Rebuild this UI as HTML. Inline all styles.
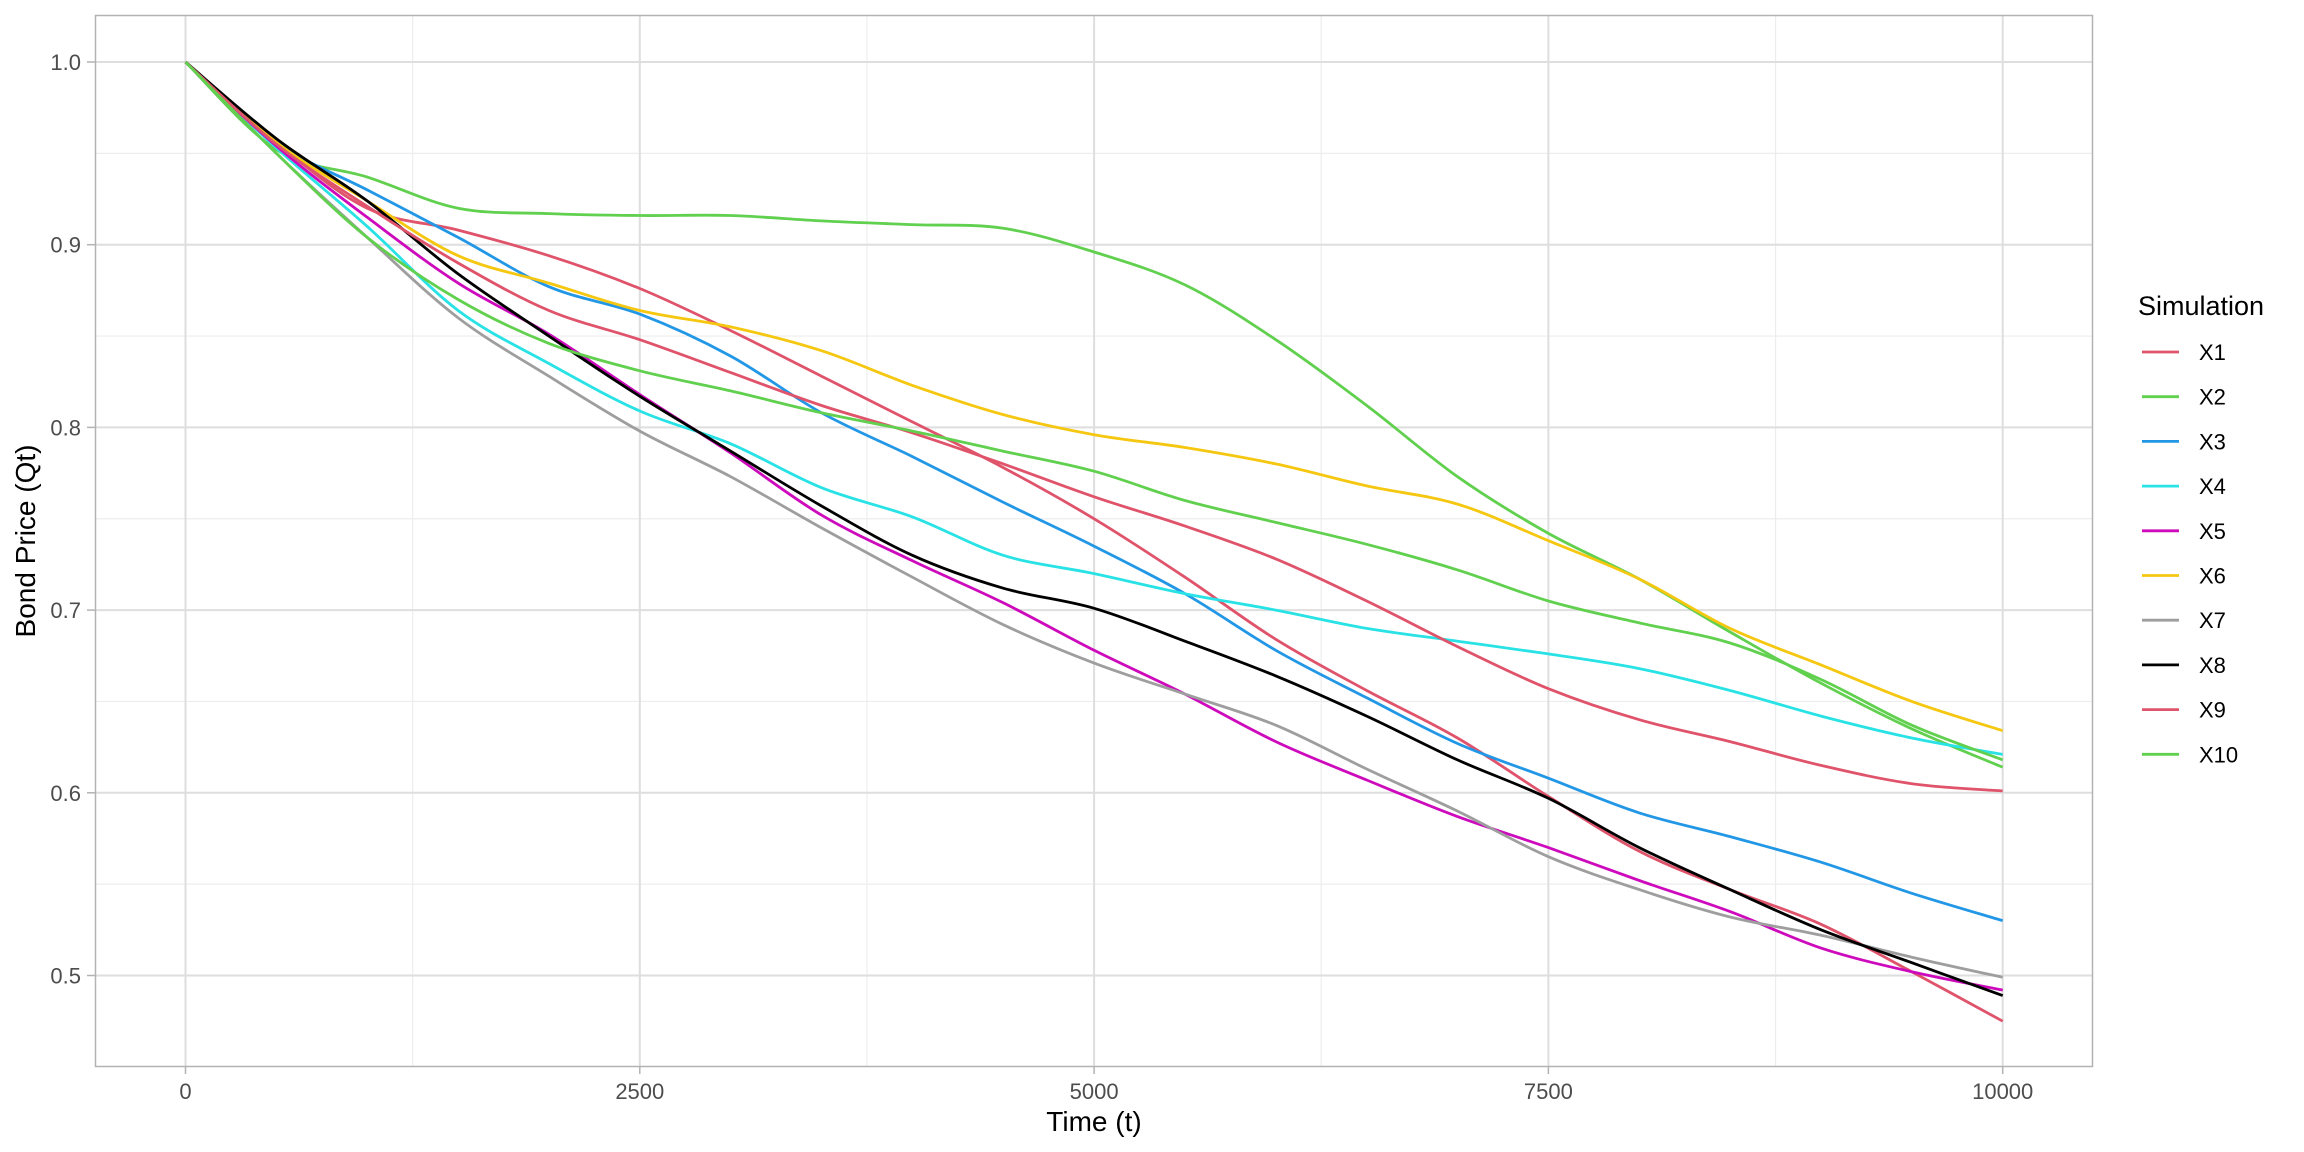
<!DOCTYPE html>
<html><head><meta charset="utf-8"><style>
html,body{margin:0;padding:0;background:#fff;}
svg{display:block;font-family:"Liberation Sans",Arial,sans-serif;}
</style></head><body>
<svg id="chart" width="2304" height="1152" viewBox="0 0 2304 1152" xmlns="http://www.w3.org/2000/svg">
<rect width="2304" height="1152" fill="#fff"/>
<g id="grid"></g>
<g id="series"></g>
<rect x="95.5" y="15.5" width="1997" height="1051" fill="none" stroke="#B3B3B3" stroke-width="1.5"/>
<g id="axes"></g>
<text x="1094" y="1131" font-size="28" text-anchor="middle" fill="#000">Time (t)</text>
<text transform="translate(35,541) rotate(-90)" font-size="28" text-anchor="middle" fill="#000">Bond Price (Qt)</text>
<g id="legend">
<text x="2138" y="315" font-size="27" fill="#000">Simulation</text>
</g>
</svg>
<script>
const times=[0,500,1000,1500,2000,2500,3000,3500,4000,4500,5000,5500,6000,6500,7000,7500,8000,8500,9000,9500,10000];
const seriesNames=["X1","X2","X3","X4","X5","X6","X7","X8","X9","X10"];
const X1=[1,0.956,0.92,0.908,0.894,0.876,0.853,0.828,0.803,0.778,0.75,0.718,0.684,0.656,0.63,0.598,0.568,0.547,0.528,0.502,0.475];
const X2=[1,0.952,0.937,0.92,0.917,0.916,0.916,0.913,0.911,0.909,0.896,0.878,0.848,0.812,0.773,0.742,0.717,0.688,0.66,0.635,0.614];
const X3=[1,0.956,0.93,0.904,0.877,0.862,0.839,0.808,0.784,0.759,0.735,0.709,0.678,0.652,0.627,0.608,0.589,0.576,0.562,0.545,0.53];
const X4=[1,0.953,0.91,0.864,0.835,0.809,0.791,0.767,0.751,0.73,0.72,0.709,0.70,0.69,0.683,0.676,0.668,0.656,0.642,0.63,0.621];
const X5=[1,0.954,0.915,0.879,0.851,0.818,0.786,0.752,0.727,0.704,0.678,0.654,0.628,0.607,0.587,0.57,0.552,0.535,0.515,0.502,0.492];
const X6=[1,0.956,0.924,0.894,0.879,0.864,0.855,0.842,0.823,0.807,0.796,0.789,0.78,0.768,0.758,0.738,0.717,0.69,0.67,0.65,0.634];
const X7=[1,0.95,0.904,0.86,0.828,0.798,0.773,0.745,0.718,0.692,0.671,0.654,0.637,0.613,0.59,0.565,0.547,0.532,0.522,0.51,0.499];
const X8=[1,0.958,0.924,0.884,0.85,0.817,0.787,0.757,0.73,0.712,0.701,0.683,0.664,0.642,0.618,0.597,0.57,0.547,0.525,0.507,0.489];
const X9=[1,0.955,0.921,0.89,0.864,0.848,0.83,0.812,0.797,0.78,0.762,0.746,0.728,0.705,0.68,0.657,0.64,0.628,0.615,0.605,0.601];
const X10=[1,0.95,0.904,0.87,0.846,0.831,0.82,0.808,0.798,0.787,0.776,0.76,0.748,0.736,0.722,0.705,0.693,0.682,0.662,0.637,0.618];
const seriesValues=[X1,X2,X3,X4,X5,X6,X7,X8,X9,X10];
const colors=["#DF536B","#61D04F","#2297E6","#28E2E5","#CD0BBC","#F5C710","#9E9E9E","#000000","#DF536B","#61D04F"];
const xTicks=[0,2500,5000,7500,10000];
const xTickLabels=["0","2500","5000","7500","10000"];
const xMinor=[1250,3750,6250,8750];
const yTicks=[0.5,0.6,0.7,0.8,0.9,1.0];
const yTickLabels=["0.5","0.6","0.7","0.8","0.9","1.0"];
const yMinor=[0.55,0.65,0.75,0.85,0.95];

const NS="http://www.w3.org/2000/svg";
function xs(t){return 185.5+(t/10000)*1817.2;}
function ys(v){return 62+(1-v)*1827;}
function mk(tag,parent,attrs){const e=document.createElementNS(NS,tag);for(const k in attrs)e.setAttribute(k,attrs[k]);parent.appendChild(e);return e;}
const grid=document.getElementById('grid'),axes=document.getElementById('axes'),ser=document.getElementById('series'),leg=document.getElementById('legend');
xMinor.forEach(t=>{const l=mk('line',grid,{x1:xs(t),x2:xs(t),y1:15,y2:1066,stroke:'#EDEDED','stroke-width':1.2});

});
yMinor.forEach(v=>{const l=mk('line',grid,{x1:95,x2:2092,y1:ys(v),y2:ys(v),stroke:'#EDEDED','stroke-width':1.2});

});
xTicks.forEach((t,i)=>{const l=mk('line',grid,{x1:xs(t),x2:xs(t),y1:15,y2:1066,stroke:'#DEDEDE','stroke-width':2});


const tk=mk('line',axes,{x1:xs(t),x2:xs(t),y1:1066,y2:1074,stroke:'#B3B3B3','stroke-width':1.5});


const tx=mk('text',axes,{x:xs(t),y:1099,'font-size':22,'text-anchor':'middle',fill:'#4D4D4D'});tx.textContent=xTickLabels[i];

});
yTicks.forEach((v,i)=>{const l=mk('line',grid,{x1:95,x2:2092,y1:ys(v),y2:ys(v),stroke:'#DEDEDE','stroke-width':2});


const tk=mk('line',axes,{x1:87,x2:95,y1:ys(v),y2:ys(v),stroke:'#B3B3B3','stroke-width':1.5});


const tx=mk('text',axes,{x:81,y:ys(v)+8,'font-size':22,'text-anchor':'end',fill:'#4D4D4D'});tx.textContent=yTickLabels[i];

});
function smooth(pts){let d='M'+pts[0][0]+','+pts[0][1];for(let i=0;i<pts.length-1;i++){const p0=pts[i-1]||pts[i],p1=pts[i],p2=pts[i+1],p3=pts[i+2]||p2;
const c1=[p1[0]+(p2[0]-p0[0])/6,p1[1]+(p2[1]-p0[1])/6],c2=[p2[0]-(p3[0]-p1[0])/6,p2[1]-(p3[1]-p1[1])/6];
d+=' C'+c1[0].toFixed(1)+','+c1[1].toFixed(1)+' '+c2[0].toFixed(1)+','+c2[1].toFixed(1)+' '+p2[0].toFixed(1)+','+p2[1].toFixed(1);}return d;}
seriesValues.forEach((vals,k)=>{const pts=times.map((t,i)=>[xs(t),ys(vals[i])]);
const p=mk('path',ser,{d:smooth(pts),fill:'none',stroke:colors[k],'stroke-width':2.8,'stroke-linejoin':'round','stroke-linecap':'butt'});


const y=352+k*44.7;
const g=mk('g',leg,{});


mk('line',g,{x1:2142,x2:2179,y1:y,y2:y,stroke:colors[k],'stroke-width':2.8});
const tx=mk('text',g,{x:2199,y:y+8,'font-size':22,fill:'#000'});tx.textContent=seriesNames[k];});
</script>
</body></html>
